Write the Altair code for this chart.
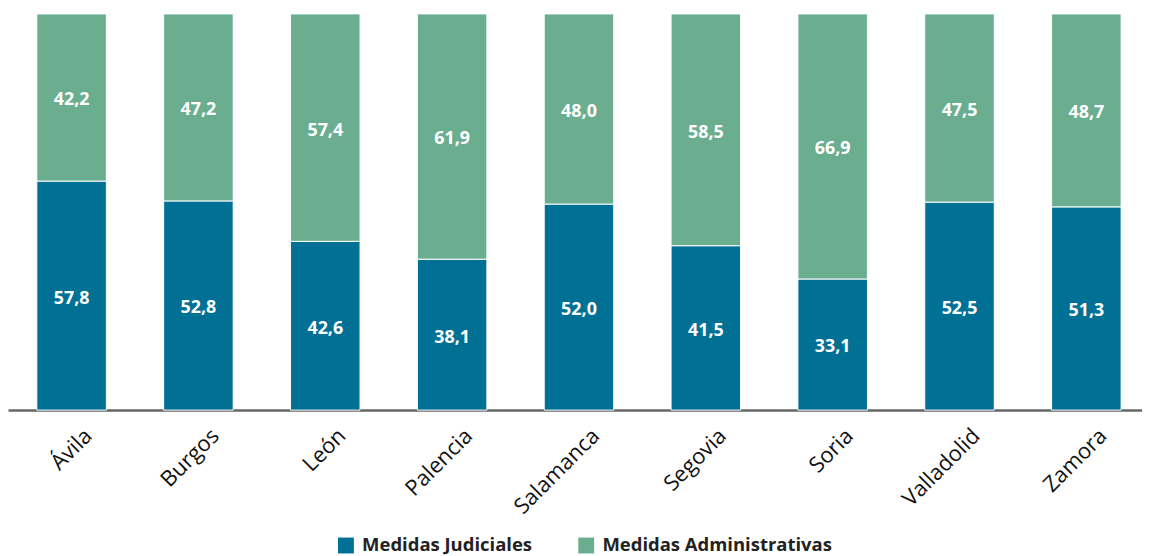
import altair as alt
import pandas as pd

provinces = ["Ávila", "Burgos", "León", "Palencia", "Salamanca", "Segovia", "Soria", "Valladolid", "Zamora"]
judiciales = [57.8, 52.8, 42.6, 38.1, 52.0, 41.5, 33.1, 52.5, 51.3]
administrativas = [42.2, 47.2, 57.4, 61.9, 48.0, 58.5, 66.9, 47.5, 48.7]
series = ["Medidas Judiciales", "Medidas Administrativas"]
colors = ["#007095", "#6aae8f"]

rows = []
for i, p in enumerate(provinces):
    for k, (s, vals) in enumerate(zip(series, [judiciales, administrativas])):
        v = vals[i]
        rows.append({"prov": p, "serie": s, "value": v, "ord": k,
                     "label": f"{v:.1f}".replace(".", ",")})
df = pd.DataFrame(rows)

FONT = "Open Sans"

xscale = alt.Scale(paddingInner=0.452, paddingOuter=0.196, align=0.58)
x = alt.X("prov:N", sort=provinces, scale=xscale,
          axis=alt.Axis(title=None, labelAngle=-45, labelAlign="right", labelBaseline="middle",
                        labelFontSize=22, labelFont=FONT, labelColor="#111", labelPadding=22,
                        labelOffset=17,
                        ticks=False, domainColor="#666", domainWidth=2.5, grid=False))

base = alt.Chart(df).transform_stack(
    stack="value", groupby=["prov"], as_=["y0", "y1"], sort=[alt.SortField("ord", order="ascending")]
).transform_calculate(mid="(datum.y0 + datum.y1) / 2")

yscale = alt.Scale(domain=[0, 100])

bars = base.mark_bar(stroke="white", strokeWidth=1).encode(
    x=x,
    y=alt.Y("y0:Q", scale=yscale, axis=None),
    y2="y1:Q",
    color=alt.Color("serie:N", scale=alt.Scale(domain=series, range=colors),
                    legend=alt.Legend(title=None, orient="none", direction="horizontal",
                                      legendX=331, legendY=526, symbolType="square",
                                      symbolSize=256, symbolStrokeWidth=0, symbolOpacity=1,
                                      labelFont=FONT, labelFontSize=18.6, labelFontWeight="bold",
                                      labelColor="#222", labelOffset=7, columnPadding=45,
                                      labelLimit=0)),
)

text = base.mark_text(color="white", font=FONT, fontSize=18, fontWeight="bold", dy=3).encode(
    x=alt.X("prov:N", sort=provinces, scale=xscale),
    y=alt.Y("mid:Q", scale=yscale),
    text="label:N",
)

chart = (bars + text).properties(
    width=1142, height=399,
    autosize=alt.AutoSizeParams(type="none"),
    padding={"left": 0, "top": 4, "right": 0, "bottom": 150},
).configure_view(stroke=None)

chart.save("out.html", embed_options={"renderer": "svg", "actions": False})
